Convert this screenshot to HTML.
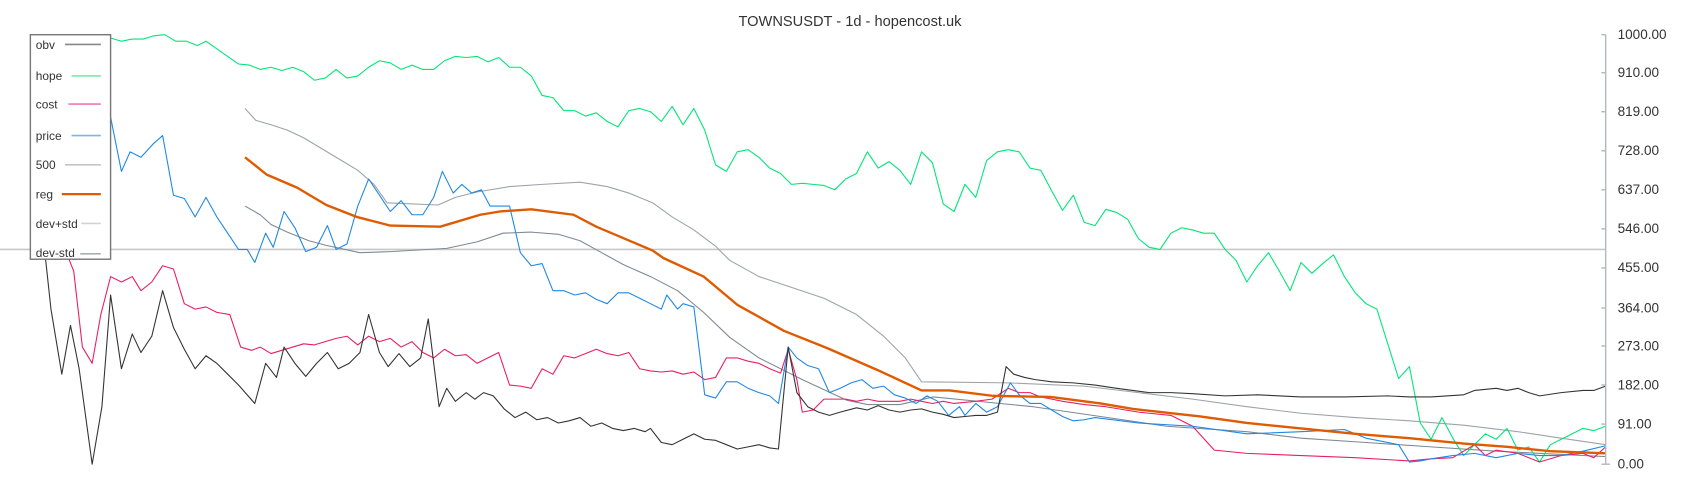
<!DOCTYPE html>
<html><head><meta charset="utf-8"><style>
html,body{margin:0;padding:0;background:#fff;}
svg{display:block;}
text{font-family:"Liberation Sans",sans-serif;}
</style></head><body>
<svg width="1700" height="500" viewBox="0 0 1568 461" preserveAspectRatio="none" xmlns="http://www.w3.org/2000/svg">
<rect width="1568" height="461" fill="#fff"/>
<text x="784" y="24" text-anchor="middle" font-size="13.5" fill="#333">TOWNSUSDT - 1d - hopencost.uk</text>
<line x1="0" y1="230" x2="1481" y2="230" stroke="#c8c8c8" stroke-width="1.5"/>
<g fill="none" stroke-linejoin="round">
<polyline stroke="#9ea3a8" stroke-width="1" points="226,100 236,111 250,115 265,120 280,127 295,136 315,148 330,157 345,170 357,187 404,189 420,182 440,177 470,172 500,170 535,168 560,172 580,178 602,187 620,200 640,212 660,227 673,240 700,255 730,265 760,275 790,290 815,310 835,330 850,352 930,353 1000,356 1050,362 1100,368 1150,375 1200,381 1250,385 1300,388 1350,392 1400,398 1440,404 1481,410"/>
<polyline stroke="#7d8a94" stroke-width="1" points="226,190 240,198 250,207 265,214 285,222 300,226 332,233 360,232 412,229 440,223 464,215 490,214 515,216 535,222 555,233 575,244 600,255 625,268 649,288 673,311 700,330 740,350 781,369 800,373 830,373 861,366 953,375 1015,384 1076,393 1150,398 1200,404 1260,408 1320,412 1380,416 1440,419 1481,421"/>
<polyline stroke="#00e676" stroke-width="1" points="45,32 60,34 80,33 102,35 112,38 122,36 132,36 142,33 152,32 162,38 172,38 182,42 190,38 200,45 210,52 220,59 230,60 240,64 250,62 260,65 270,62 280,66 290,74 300,72 310,64 320,72 330,70 340,62 350,56 360,58 370,64 380,60 390,64 400,64 410,56 420,52 430,53 440,52 450,57 460,53 470,62 480,62 490,70 500,88 510,90 520,102 530,102 540,107 550,104 560,112 570,117 580,102 590,100 600,103 610,112 620,98 630,115 640,100 650,120 660,152 670,158 680,140 690,138 700,145 710,155 720,160 730,170 740,169 750,170 760,171 770,175 780,165 790,160 800,140 810,155 820,149 830,157 840,170 850,140 860,150 870,188 880,195 890,170 900,182 910,148 920,140 930,138 940,140 950,155 960,157 970,176 980,194 990,180 1000,205 1010,208 1020,193 1030,196 1040,202 1050,220 1060,228 1070,230 1080,215 1090,210 1100,212 1110,215 1120,215 1130,230 1140,240 1150,260 1160,245 1170,233 1180,250 1190,268 1200,242 1210,252 1220,243 1230,235 1240,255 1250,270 1260,280 1270,285 1290,349 1300,338 1310,390 1320,405 1330,385 1340,404 1350,420 1360,410 1370,400 1380,405 1390,395 1400,415 1410,412 1420,426 1430,410 1440,405 1450,400 1460,395 1470,397 1481,393"/>
<polyline stroke="#e91e63" stroke-width="1" points="60,230 68,250 76,320 85,335 93,290 102,255 112,260 122,255 130,268 140,260 150,245 160,248 170,280 180,285 190,283 200,288 212,290 222,320 232,323 240,320 250,326 260,323 270,320 280,317 290,318 300,315 310,312 320,310 330,318 340,310 350,315 360,312 370,320 380,315 390,325 400,330 410,322 420,328 430,327 440,335 450,330 460,325 470,355 480,356 490,358 500,340 510,345 520,328 530,330 540,326 550,322 560,326 570,328 580,325 590,340 600,342 610,343 620,342 630,345 640,343 650,350 660,348 670,330 680,330 690,333 700,335 710,340 720,344 727,322 735,350 740,380 750,378 760,368 770,368 780,368 790,370 800,368 810,370 820,370 830,370 840,368 850,370 860,372 870,370 880,372 900,370 915,368 930,358 940,362 950,362 960,366 970,368 980,370 1000,373 1020,375 1050,380 1080,383 1100,393 1120,415 1150,418 1200,420 1250,422 1300,425 1320,423 1340,422 1360,410 1370,420 1380,415 1400,418 1420,426 1440,420 1460,418 1470,422 1481,412"/>
<polyline stroke="#1e88e5" stroke-width="1" points="102,108 112,158 120,140 130,145 142,132 150,125 160,180 170,183 180,200 190,182 200,200 210,215 220,230 228,230 235,242 245,215 252,228 262,195 272,210 282,232 292,228 302,208 310,230 320,225 330,190 340,165 350,180 360,195 370,185 380,198 390,198 400,182 408,158 418,178 426,170 435,178 444,175 452,190 462,190 470,190 480,233 490,245 500,243 510,268 520,268 530,272 540,270 550,276 560,280 570,270 580,270 590,275 600,280 610,285 615,272 625,285 630,280 640,283 650,364 660,367 670,352 680,352 690,358 700,362 710,365 718,372 727,320 735,330 745,337 755,340 765,362 775,358 785,353 795,350 805,358 815,356 825,364 835,367 845,372 855,365 865,370 875,383 885,375 890,383 900,372 910,380 920,375 932,353 940,364 950,372 960,372 970,378 980,384 990,388 1000,387 1010,385 1050,390 1100,393 1150,400 1200,398 1240,396 1260,404 1290,410 1300,426 1310,425 1320,423 1340,420 1360,418 1380,422 1400,418 1420,420 1440,420 1460,416 1481,411"/>
<polyline stroke="#333" stroke-width="1" points="40,220 47,285 57,345 65,300 73,340 85,428 94,375 102,272 112,340 122,308 130,325 140,310 150,268 160,302 170,322 180,340 190,328 200,335 210,345 220,355 235,372 245,335 255,348 262,320 272,335 282,347 292,335 302,325 312,340 322,335 332,325 340,290 350,325 358,338 368,326 378,338 388,330 395,294 405,375 412,358 420,370 430,362 438,368 446,362 455,365 465,377 475,385 485,380 495,387 505,385 515,390 525,388 535,385 545,393 555,390 565,395 575,397 585,395 595,398 600,395 610,408 620,410 630,405 640,400 650,405 660,406 670,410 680,414 690,412 700,410 710,413 718,414 727,320 735,362 745,375 755,380 765,383 775,380 790,376 800,378 810,374 820,378 830,380 840,378 850,377 860,380 870,382 880,385 890,384 900,383 910,383 920,380 928,338 935,345 945,348 955,350 970,352 990,353 1010,355 1030,358 1060,362 1080,362 1100,363 1130,365 1160,364 1200,366 1240,366 1280,365 1300,366 1320,366 1350,364 1360,360 1380,358 1390,360 1400,358 1410,362 1420,365 1440,362 1460,360 1470,360 1481,356"/>
<polyline stroke="#e05a00" stroke-width="2.2" points="226,145 246,161 274,173 301,189 329,200 360,208 406,209 443,198 461,195 490,193 529,198 550,209 602,231 612,238 649,255 680,281 723,305 763,321 809,341 850,360 876,360 916,365 969,366 1015,372 1045,377 1107,384 1150,390 1200,395 1250,400 1300,404 1350,409 1390,412 1430,416 1481,418"/>
</g>
<g stroke="#b0b8c0" stroke-width="1.3" fill="none">
<line x1="1481" y1="32" x2="1481" y2="428"/>
<line x1="1477" y1="32" x2="1481" y2="32"/><line x1="1477" y1="67" x2="1481" y2="67"/><line x1="1477" y1="103" x2="1481" y2="103"/><line x1="1477" y1="139" x2="1481" y2="139"/><line x1="1477" y1="175" x2="1481" y2="175"/><line x1="1477" y1="211" x2="1481" y2="211"/><line x1="1477" y1="247" x2="1481" y2="247"/><line x1="1477" y1="284" x2="1481" y2="284"/><line x1="1477" y1="319" x2="1481" y2="319"/><line x1="1477" y1="355" x2="1481" y2="355"/><line x1="1477" y1="391" x2="1481" y2="391"/><line x1="1477" y1="428" x2="1481" y2="428"/>
<line x1="1481" y1="428" x2="1485" y2="428"/>
</g>
<g font-size="12.5" fill="#333">
<text x="1492" y="36">1000.00</text><text x="1492" y="71">910.00</text><text x="1492" y="107">819.00</text><text x="1492" y="143">728.00</text><text x="1492" y="179">637.00</text><text x="1492" y="215">546.00</text><text x="1492" y="251">455.00</text><text x="1492" y="288">364.00</text><text x="1492" y="323">273.00</text><text x="1492" y="359">182.00</text><text x="1492" y="395">91.00</text><text x="1492" y="432">0.00</text>
</g>
<rect x="28" y="32" width="74" height="207" fill="#fff" stroke="#777" stroke-width="1.3"/>
<g font-size="11" fill="#333">
<text x="33" y="45">obv</text><text x="33" y="74">hope</text><text x="33" y="100">cost</text><text x="33" y="129">price</text><text x="33" y="156">500</text><text x="33" y="183">reg</text><text x="33" y="210">dev+std</text><text x="33" y="237">dev-std</text>
</g>
<g stroke-width="1.5">
<line x1="60" y1="41" x2="93" y2="41" stroke="#888"/>
<line x1="66" y1="70" x2="93" y2="70" stroke="#7fe8a8"/>
<line x1="63" y1="96" x2="93" y2="96" stroke="#ef7ab0"/>
<line x1="66" y1="125" x2="93" y2="125" stroke="#7ab6ec"/>
<line x1="60" y1="152" x2="93" y2="152" stroke="#c4c4c4"/>
<line x1="57" y1="179" x2="93" y2="179" stroke="#e05a00" stroke-width="2"/>
<line x1="75" y1="206" x2="93" y2="206" stroke="#d0d4d8"/>
<line x1="74" y1="234" x2="93" y2="234" stroke="#a8b0b8"/>
</g>
</svg>
</body></html>
